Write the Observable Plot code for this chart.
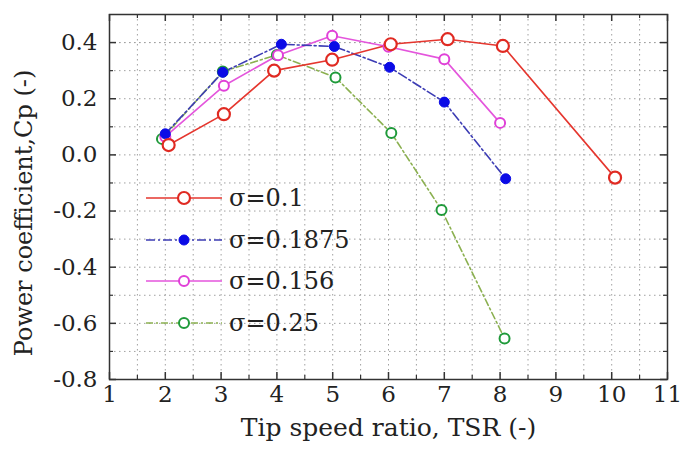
<!DOCTYPE html>
<html>
<head>
<meta charset="utf-8">
<script src="https://cdn.jsdelivr.net/npm/d3@7"></script>
<script src="https://cdn.jsdelivr.net/npm/@observablehq/plot@0.6"></script>
<style>
  html, body { margin: 0; padding: 0; background: #fff; }
  #wrap { position: relative; width: 683px; height: 450px; font-family: "DejaVu Serif", serif; }
  #legend { position: absolute; left: 146px; top: 177px; }
  .row { display: flex; align-items: center; height: 41.7px; }
  .row span { font-size: 24px; color: #222; margin-left: 7px; line-height: 1; }
</style>
</head>
<body>
<div id="wrap"></div>
<script>
// ---- data ----
const seriesNames = ["σ=0.1", "σ=0.1875", "σ=0.156", "σ=0.25"];
const x01 = [2.06, 3.05, 3.95, 4.99, 6.04, 7.06, 8.05, 10.06];
const y01 = [0.035, 0.145, 0.30, 0.339, 0.394, 0.412, 0.388, -0.081];
const x1875 = [2.0, 3.03, 4.08, 5.03, 6.02, 7.0, 8.1];
const y1875 = [0.075, 0.294, 0.394, 0.386, 0.312, 0.188, -0.085];
const x156 = [2.0, 3.05, 4.02, 4.99, 6.0, 7.0, 8.0];
const y156 = [0.065, 0.246, 0.355, 0.424, 0.385, 0.341, 0.114];
const x025 = [1.94, 3.03, 4.0, 5.05, 6.05, 6.95, 8.08];
const y025 = [0.057, 0.297, 0.356, 0.276, 0.078, -0.196, -0.654];
const xTicks = [1, 2, 3, 4, 5, 6, 7, 8, 9, 10, 11];
const xMinor = [1.5, 2.5, 3.5, 4.5, 5.5, 6.5, 7.5, 8.5, 9.5, 10.5];
const yTicks = [-0.8, -0.6, -0.4, -0.2, 0.0, 0.2, 0.4];
const yMinor = [-0.7, -0.5, -0.3, -0.1, 0.1, 0.3];
const xTitle = "Tip speed ratio, TSR (-)";
const yTitle = "Power coefficient,Cp (-)";

// ---- styles ----
const styles = [
  {line: "#e5362e", mark: "#e02a22", fill: "#fff", dash: null, r: 6, sw: 2.2},
  {line: "#3c3cb4", mark: "#0b0be6", fill: "#0b0be6", dash: "9,3,2,3", r: 5, sw: 1},
  {line: "#e455dc", mark: "#e040d8", fill: "#fff", dash: null, r: 5, sw: 2},
  {line: "#8bb050", mark: "#1f9a3a", fill: "#fff", dash: "7,3,2,3", r: 5, sw: 2}
];
const xs = [x01, x1875, x156, x025];
const ys = [y01, y1875, y156, y025];
const series = xs.map((xa, i) => xa.map((x, j) => ({x, y: ys[i][j], s: i})));

const W = 683, H = 450, mL = 109, mR = 16, mT = 14, mB = 71;
const fw = W - mL - mR, fh = H - mT - mB;
const fmt = d => d.toFixed(1);
const xLabels = xTicks.map(String);
const yLabels = yTicks.map(fmt);
const FONT = "DejaVu Serif, serif";

const marks = [
  Plot.gridX(xTicks.concat(xMinor), {stroke: "#a0a0a0", strokeOpacity: 1, strokeDasharray: "1.5,3.5", strokeWidth: 1}),
  Plot.gridY(yTicks.concat(yMinor).concat([0.5 - 0.1]), {stroke: "#a0a0a0", strokeOpacity: 1, strokeDasharray: "1.5,3.5", strokeWidth: 1}),
  // inward ticks
  Plot.ruleX(xTicks, {x: d => d, insetTop: fh - 7, stroke: "#333", strokeWidth: 1.5}),
  Plot.ruleX(xTicks, {x: d => d, insetBottom: fh - 7, stroke: "#333", strokeWidth: 1.5}),
  Plot.ruleX(xMinor, {x: d => d, insetTop: fh - 4, stroke: "#333", strokeWidth: 1.2}),
  Plot.ruleX(xMinor, {x: d => d, insetBottom: fh - 4, stroke: "#333", strokeWidth: 1.2}),
  Plot.ruleY(yTicks, {y: d => d, insetRight: fw - 7, stroke: "#333", strokeWidth: 1.5}),
  Plot.ruleY(yTicks, {y: d => d, insetLeft: fw - 7, stroke: "#333", strokeWidth: 1.5}),
  Plot.ruleY(yMinor, {y: d => d, insetRight: fw - 4, stroke: "#333", strokeWidth: 1.2}),
  Plot.ruleY(yMinor, {y: d => d, insetLeft: fw - 4, stroke: "#333", strokeWidth: 1.2}),
  Plot.frame({stroke: "#333", strokeWidth: 1.5}),
  // tick labels
  Plot.text(xTicks, {x: d => d, text: d => String(d), frameAnchor: "bottom", dy: 22, fontSize: 23, fontFamily: FONT, fill: "#222"}),
  Plot.text(yTicks, {y: d => d, text: fmt, frameAnchor: "left", dx: -12, textAnchor: "end", fontSize: 23, fontFamily: FONT, fill: "#222"}),
  // axis titles
  Plot.text([xTitle], {text: d => d, frameAnchor: "bottom", dy: 56, fontSize: 25, fontFamily: FONT, fill: "#222"}),
  Plot.text([yTitle], {text: d => d, frameAnchor: "left", textAnchor: "middle", dx: -85, dy: 16, rotate: -90, fontSize: 24, fontFamily: FONT, fill: "#222"})
];
const order = [3, 2, 1, 0];
for (const i of order) {
  const st = styles[i];
  marks.push(Plot.line(series[i], {x: "x", y: "y", stroke: st.line, strokeWidth: 1.6, strokeDasharray: st.dash}));
}
for (const i of order) {
  const st = styles[i];
  marks.push(Plot.dot(series[i], {x: "x", y: "y", r: st.r, stroke: st.mark, fill: st.fill, strokeWidth: st.sw}));
}

const chart = Plot.plot({
  width: W, height: H,
  marginLeft: mL, marginRight: mR, marginTop: mT, marginBottom: mB,
  x: {domain: [1, 11], axis: null},
  y: {domain: [-0.8, 0.5], axis: null},
  style: {fontFamily: FONT, color: "#222", background: "#fff"},
  marks
});
const wrap = document.getElementById("wrap");
wrap.appendChild(chart);
// enforce text sizes
d3.select(chart).selectAll("text").each(function() {
  const t = this.textContent;
  if (xLabels.includes(t) || yLabels.includes(t)) this.style.fontSize = "23px";
  if (t === xTitle) this.style.fontSize = "25px";
  if (t === yTitle) this.style.fontSize = "24px";
});

// legend
const legend = document.createElement("div");
legend.id = "legend";
seriesNames.forEach((name, i) => {
  const st = styles[i];
  const row = document.createElement("div");
  row.className = "row";
  const svg = d3.create("svg").attr("width", 76).attr("height", 20);
  svg.append("line").attr("x1", 0).attr("x2", 76).attr("y1", 10).attr("y2", 10)
    .attr("stroke", st.line).attr("stroke-width", 1.6).attr("stroke-dasharray", st.dash);
  svg.append("circle").attr("cx", 38).attr("cy", 10).attr("r", st.r)
    .attr("stroke", st.mark).attr("fill", st.fill).attr("stroke-width", st.sw);
  row.appendChild(svg.node());
  const sp = document.createElement("span");
  sp.textContent = name;
  row.appendChild(sp);
  legend.appendChild(row);
});
wrap.appendChild(legend);
</script>
</body>
</html>
